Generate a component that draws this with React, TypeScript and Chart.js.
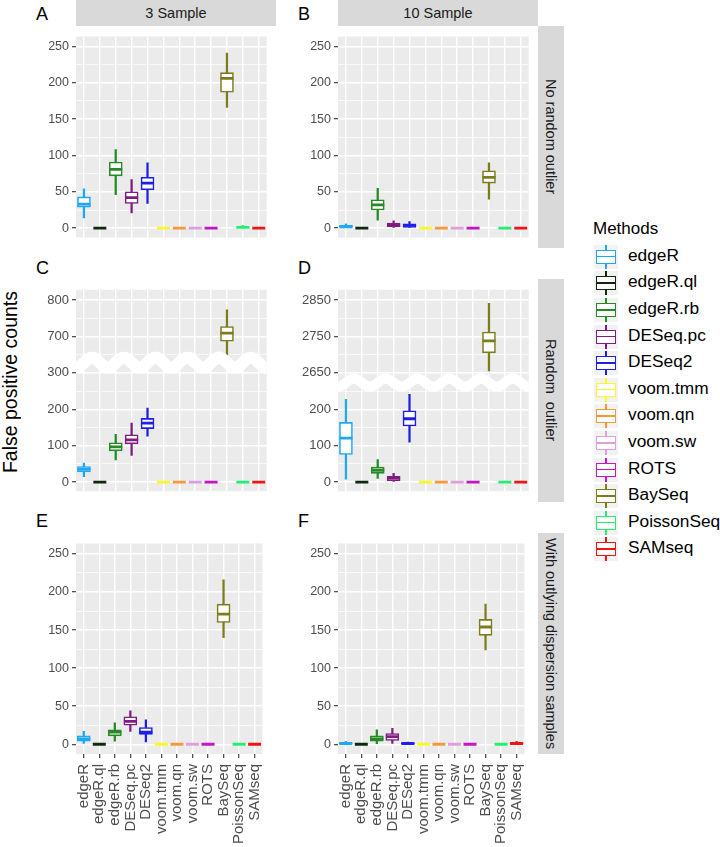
import React, { useEffect, useRef } from "react";
import { Chart, registerables } from "chart.js";

Chart.register(...registerables);

// ---------- data ----------
const methods = ["edgeR", "edgeR.ql", "edgeR.rb", "DESeq.pc", "DESeq2", "voom.tmm", "voom.qn", "voom.sw", "ROTS", "BaySeq", "PoissonSeq", "SAMseq"];
const methodColors = ["#1FA8F2", "#0D2A0D", "#268A26", "#801C80", "#1E1EEB", "#F8F82A", "#F7993A", "#DE9FDE", "#C813C8", "#7C7C1C", "#22EE74", "#F01414"];

const columnTitles = ["3 Sample", "10 Sample"];
const rowTitles = ["No random outlier", "Random  outlier", "With outlying dispersion samples"];
const panelLetters = ["A", "B", "C", "D", "E", "F"];

// Panel A: 3 Sample, No random outlier
const A_min = [14, 0, 46, 21, 34, 0, 0, 0, 0, 166, 0, 0];
const A_q1 = [29, 0, 72, 34, 53, 0, 0, 0, 0, 187, 0, 0];
const A_med = [33, 0, 81, 42, 62, 0, 0, 0, 0, 206, 1, 0];
const A_q3 = [43, 0, 91, 50, 70, 0, 0, 0, 0, 214, 1, 0];
const A_max = [54, 0, 108, 67, 90, 0, 0, 0, 0, 241, 4, 0];

// Panel B: 10 Sample, No random outlier
const B_min = [0, 0, 11, 1, 0, 0, 0, 0, 0, 40, 0, 0];
const B_q1 = [0, 0, 25, 2, 1, 0, 0, 0, 0, 62, 0, 0];
const B_med = [2, 0, 32, 4, 4, 0, 0, 0, 0, 70, 0, 0];
const B_q3 = [4, 0, 39, 7, 6, 0, 0, 0, 0, 79, 0, 0];
const B_max = [6, 0, 55, 10, 9, 0, 0, 0, 0, 90, 0, 0];

// Panel C: 3 Sample, Random outlier (broken axis)
const C_min = [15, 0, 61, 73, 126, 0, 0, 0, 0, 648, 0, 0];
const C_q1 = [28, 0, 86, 105, 147, 0, 0, 0, 0, 687, 0, 0];
const C_med = [35, 0, 97, 116, 162, 0, 0, 0, 0, 709, 0, 0];
const C_q3 = [43, 0, 108, 130, 175, 0, 0, 0, 0, 727, 0, 0];
const C_max = [52, 0, 131, 162, 203, 0, 0, 0, 0, 773, 0, 0];
const C_tickLabels = ["0", "100", "200", "300", "700", "800"];
const C_breakShift = 300;

// Panel D: 10 Sample, Random outlier (broken axis)
const D_min = [8, 0, 10, 0, 110, 0, 0, 0, 0, 2655, 0, 0];
const D_q1 = [76, 0, 24, 4, 154, 0, 0, 0, 0, 2705, 0, 0];
const D_med = [121, 0, 32, 11, 174, 0, 0, 0, 0, 2738, 0, 0];
const D_q3 = [164, 0, 41, 16, 196, 0, 0, 0, 0, 2762, 0, 0];
const D_max = [227, 0, 62, 24, 241, 0, 0, 0, 1, 2841, 0, 0];
const D_tickLabels = ["0", "100", "200", "2650", "2750", "2850"];
const D_breakShift = 2350;

// Panel E: 3 Sample, With outlying dispersion samples
const E_min = [1, 0, 4, 17, 3, 0, 0, 0, 0, 140, 0, 0];
const E_q1 = [4, 0, 11, 25, 13, 0, 0, 0, 0, 160, 0, 0];
const E_med = [7, 0, 16, 30, 16, 0, 0, 0, 0, 171, 0, 0];
const E_q3 = [11, 0, 19, 36, 22, 0, 0, 0, 0, 184, 0, 0];
const E_max = [17, 0, 28, 44, 32, 0, 0, 0, 0, 216, 0, 0];

// Panel F: 10 Sample, With outlying dispersion samples
const F_min = [0, 0, 0, 1, 0, 0, 0, 0, 0, 124, 0, 0];
const F_q1 = [0, 0, 4, 5, 0, 0, 0, 0, 0, 143, 0, 0];
const F_med = [1, 0, 7, 10, 1, 0, 0, 0, 0, 154, 0, 1];
const F_q3 = [2, 0, 11, 14, 2, 0, 0, 0, 0, 164, 0, 2];
const F_max = [4, 0, 19, 21, 3, 0, 0, 0, 0, 184, 0, 4];

const linearTicks = ["0", "50", "100", "150", "200", "250"];

// ---------- styling ----------
const FONT = '"Liberation Sans", Arial, Helvetica, sans-serif';
const PANEL_BG = "#EBEBEB";
const STRIP_BG = "#D9D9D9";

const bgPlugin = {
  id: "panelBg",
  beforeDraw(chart: any) {
    const { ctx, chartArea: a } = chart;
    ctx.save();
    ctx.fillStyle = PANEL_BG;
    ctx.fillRect(a.left, a.top, a.right - a.left, a.bottom - a.top);
    ctx.restore();
  },
};

function makeWave(center: number, amp: number, lw: number) {
  return {
    id: "breakWave",
    afterDatasetsDraw(chart: any) {
      const { ctx, chartArea: a, scales } = chart;
      const yc = scales.y.getPixelForValue(center);
      const band = (a.right - a.left) / methods.length;
      ctx.save();
      ctx.beginPath();
      ctx.rect(a.left, a.top, a.right - a.left, a.bottom - a.top);
      ctx.clip();
      ctx.beginPath();
      for (let x = a.left - 20; x <= a.right + 20; x += 1) {
        const y = yc - amp * Math.cos((2 * Math.PI * (x - (a.left + band))) / (2 * band));
        if (x === a.left - 20) ctx.moveTo(x, y);
        else ctx.lineTo(x, y);
      }
      ctx.strokeStyle = "#FFFFFF";
      ctx.lineWidth = lw;
      ctx.stroke();
      ctx.restore();
    },
  };
}

type PanelProps = {
  left: number;
  top: number;
  width: number;
  height: number;
  axisW: number;
  axisH: number;
  mins: number[];
  q1s: number[];
  meds: number[];
  q3s: number[];
  maxs: number[];
  shift: number;
  yMin: number;
  yMax: number;
  step: number;
  major: number;
  labels: string[];
  tickSize: number;
  showX: boolean;
  wave?: { center: number; amp: number; lw: number };
};

function Panel(p: PanelProps) {
  const ref = useRef<HTMLCanvasElement>(null);
  useEffect(() => {
    const tf = (v: number) => (p.shift && v > 300 ? v - p.shift : v);
    const isMajor = (v: number) => Math.abs(v % p.major) < 1e-6;
    const plugins: any[] = [bgPlugin];
    if (p.wave) plugins.push(makeWave(p.wave.center, p.wave.amp, p.wave.lw));
    const chart = new Chart(ref.current as HTMLCanvasElement, {
      type: "bar",
      data: {
        labels: methods,
        datasets: [
          {
            type: "bar",
            data: p.mins.map((m, i) => [tf(m), tf(p.maxs[i])]),
            backgroundColor: methodColors,
            borderWidth: 0,
            barThickness: 1.6,
            grouped: false,
            order: 3,
          } as any,
          {
            type: "bar",
            data: p.q1s.map((q, i) => [tf(q), tf(p.q3s[i])]),
            backgroundColor: "#FFFFFF",
            borderColor: methodColors,
            borderWidth: 1.6,
            borderSkipped: false,
            barThickness: 13,
            grouped: false,
            order: 2,
          } as any,
          {
            type: "line",
            data: p.meds.map(tf),
            showLine: false,
            pointStyle: "line",
            pointRadius: 6.5,
            pointHoverRadius: 6.5,
            pointBorderWidth: 2.8,
            pointBorderColor: methodColors,
            pointBackgroundColor: methodColors,
            order: 1,
          } as any,
        ],
      },
      options: {
        animation: false,
        responsive: false,
        maintainAspectRatio: false,
        events: [],
        layout: { padding: 0 },
        plugins: { legend: { display: false }, tooltip: { enabled: false } },
        scales: {
          x: {
            offset: true,
            grid: {
              color: "#FFFFFF",
              lineWidth: 1.4,
              offset: false,
              drawTicks: p.showX,
              tickLength: 4,
              tickColor: "#333333",
              tickWidth: 1.1,
            },
            border: { display: false },
            ticks: {
              display: p.showX,
              autoSkip: false,
              minRotation: 90,
              maxRotation: 90,
              padding: 6,
              color: "#4D4D4D",
              font: { family: FONT, size: 15, lineHeight: 1 },
            },
            afterFit: (s: any) => {
              s.height = p.axisH;
            },
          } as any,
          y: {
            min: p.yMin,
            max: p.yMax,
            grid: {
              color: "#FFFFFF",
              lineWidth: (c: any) => (c.tick && isMajor(c.tick.value) ? 1.4 : 0.7),
              tickLength: 4,
              tickColor: (c: any) => (c.tick && isMajor(c.tick.value) ? "#333333" : "rgba(0,0,0,0)"),
              tickWidth: 1.1,
            },
            border: { display: false },
            ticks: {
              stepSize: p.step,
              includeBounds: false,
              autoSkip: false,
              padding: 3,
              color: "#4D4D4D",
              font: { family: FONT, size: p.tickSize },
              callback: (v: any) => {
                const n = Number(v);
                if (!isMajor(n)) return "";
                const idx = Math.round(n / p.major);
                return p.labels[idx] ?? "";
              },
            },
            afterFit: (s: any) => {
              s.width = p.axisW;
            },
          } as any,
        },
      },
      plugins,
    });
    return () => chart.destroy();
  }, []);
  return (
    <canvas
      ref={ref}
      width={p.width}
      height={p.height}
      style={{ position: "absolute", left: p.left, top: p.top, width: p.width, height: p.height }}
    />
  );
}

function Txt(props: { x: number; y: number; size: number; children: any; color?: string; style?: any }) {
  return (
    <div
      style={{
        position: "absolute",
        left: props.x,
        top: props.y,
        fontFamily: FONT,
        fontSize: props.size,
        lineHeight: 1,
        color: props.color ?? "#000",
        whiteSpace: "pre",
        ...props.style,
      }}
    >
      {props.children}
    </div>
  );
}

function LegendKey({ color, cy }: { color: string; cy: number }) {
  const x0 = 594;
  return (
    <div style={{ position: "absolute", left: x0, top: cy - 12, width: 24, height: 24, background: "#F2F2F2" }}>
      <div style={{ position: "absolute", left: 11.2, top: 0, width: 1.6, height: 24, background: color }} />
      <div
        style={{
          position: "absolute",
          left: 2,
          top: 5,
          width: 20,
          height: 14,
          boxSizing: "border-box",
          border: `1.6px solid ${color}`,
          background: "#FFFFFF",
        }}
      />
      <div style={{ position: "absolute", left: 2, top: 11.2, width: 20, height: 1.6, background: color }} />
    </div>
  );
}

export default function App() {
  const colLeft = [76, 338];
  const plotW = 200;
  const axisW = 40;
  const rows = [
    { top: 26, h: 222 },
    { top: 279, h: 223 },
    { top: 533, h: 221 },
  ];
  const common = { width: plotW + axisW, axisW, step: 25, major: 50, labels: linearTicks, tickSize: 12.5 };
  const broken = { width: plotW + axisW, axisW, step: 50, major: 100, yMin: -24.9, yMax: 528, tickSize: 13 };

  return (
    <div style={{ position: "absolute", left: 0, top: 0, width: 720, height: 847, background: "#FFFFFF", overflow: "hidden" }}>
      {/* top strips */}
      {columnTitles.map((t, i) => (
        <div
          key={t}
          style={{
            position: "absolute",
            left: colLeft[i],
            top: 0,
            width: plotW,
            height: 26,
            background: STRIP_BG,
            display: "flex",
            alignItems: "center",
            justifyContent: "center",
            fontFamily: FONT,
            fontSize: 14.5,
            color: "#1A1A1A",
          }}
        >
          {t}
        </div>
      ))}
      {/* right strips */}
      {rowTitles.map((t, i) => (
        <div
          key={t}
          style={{
            position: "absolute",
            left: 538,
            top: rows[i].top,
            width: 26,
            height: rows[i].h,
            background: STRIP_BG,
            display: "flex",
            alignItems: "center",
            justifyContent: "center",
          }}
        >
          <span style={{ writingMode: "vertical-rl", fontFamily: FONT, fontSize: 14.5, color: "#1A1A1A", whiteSpace: "pre" }}>{t}</span>
        </div>
      ))}

      {/* panel letters */}
      {panelLetters.map((l, i) => {
        const baselines = [20, 274, 527];
        const r = Math.floor(i / 2);
        const c = i % 2;
        return (
          <Txt key={l} x={c === 0 ? 36 : 298} y={baselines[r] - 0.8465 * 18} size={18}>
            {l}
          </Txt>
        );
      })}

      {/* panels */}
      <Panel {...common} left={colLeft[0] - axisW} top={rows[0].top} height={rows[0].h} axisH={0}
        mins={A_min} q1s={A_q1} meds={A_med} q3s={A_q3} maxs={A_max} shift={0} yMin={-12.8} yMax={263.7} showX={false} />
      <Panel {...common} left={colLeft[1] - axisW} top={rows[0].top} height={rows[0].h} axisH={0}
        mins={B_min} q1s={B_q1} meds={B_med} q3s={B_q3} maxs={B_max} shift={0} yMin={-12.8} yMax={263.7} showX={false} />
      <Panel {...broken} left={colLeft[0] - axisW} top={rows[1].top} height={rows[1].h} axisH={0}
        mins={C_min} q1s={C_q1} meds={C_med} q3s={C_q3} maxs={C_max} shift={C_breakShift} labels={C_tickLabels}
        showX={false} wave={{ center: 328, amp: 5, lw: 12 }} />
      <Panel {...broken} left={colLeft[1] - axisW} top={rows[1].top} height={rows[1].h} axisH={0}
        mins={D_min} q1s={D_q1} meds={D_med} q3s={D_q3} maxs={D_max} shift={D_breakShift} labels={D_tickLabels}
        showX={false} wave={{ center: 273, amp: 4, lw: 10 }} />
      <Panel {...common} left={colLeft[0] - axisW} top={rows[2].top} height={rows[2].h + 93} axisH={93}
        mins={E_min} q1s={E_q1} meds={E_med} q3s={E_q3} maxs={E_max} shift={0} yMin={-12.8} yMax={263.7} showX={true} />
      <Panel {...common} left={colLeft[1] - axisW} top={rows[2].top} height={rows[2].h + 93} axisH={93}
        mins={F_min} q1s={F_q1} meds={F_med} q3s={F_q3} maxs={F_max} shift={0} yMin={-12.8} yMax={263.7} showX={true} />

      {/* y axis title */}
      <div
        style={{
          position: "absolute",
          left: 0,
          top: 282,
          width: 20,
          height: 200,
          display: "flex",
          alignItems: "center",
          justifyContent: "center",
        }}
      >
        <span style={{ writingMode: "vertical-rl", transform: "rotate(180deg)", fontFamily: FONT, fontSize: 19.5, color: "#000", whiteSpace: "pre" }}>
          False positive counts
        </span>
      </div>

      {/* legend */}
      <Txt x={593} y={234.3 - 0.8465 * 17} size={17}>
        Methods
      </Txt>
      {methods.map((m, i) => {
        const cy = 256.7 + i * 26.6;
        return (
          <React.Fragment key={m}>
            <LegendKey color={methodColors[i]} cy={cy} />
            <Txt x={628} y={cy + 4.8 - 0.8465 * 17.3} size={17.3}>
              {m}
            </Txt>
          </React.Fragment>
        );
      })}
    </div>
  );
}
